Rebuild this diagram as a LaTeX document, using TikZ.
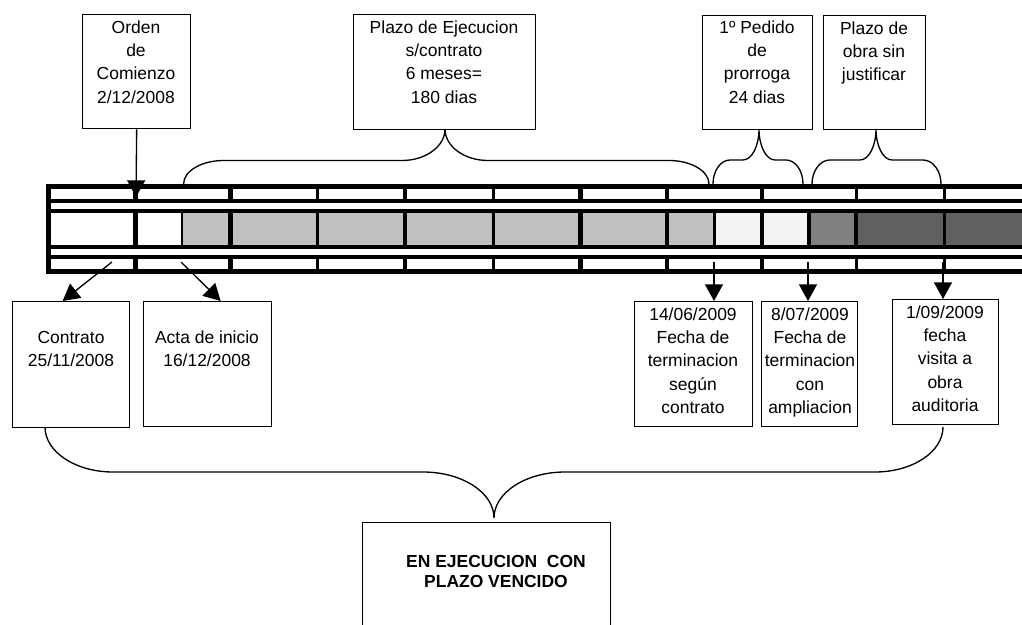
\documentclass[tikz,border=0pt]{standalone}
\usepackage{fontspec}
\setmainfont{Liberation Sans}
\usetikzlibrary{arrows.meta}
\definecolor{lg}{HTML}{C0C0C0}
\definecolor{dotc}{HTML}{F3F3F3}
\definecolor{mg}{HTML}{808080}
\definecolor{dg}{HTML}{606060}
\tikzset{
  box/.style={draw=black, line width=1pt, fill=white, inner sep=0pt, anchor=north west},
  txt/.style={inner sep=0pt, anchor=north, align=center, font=\fontsize{13.1pt}{17.5pt}\selectfont},
  arr/.style={line width=1pt, -{Triangle[width=13.5pt,length=12.5pt]}},
  brc/.style={line width=1pt},
}
\newcommand\fl{\rule{0pt}{12pt}}
% brace: #1 left x, #2 right x, #3 end y, #4 mid y, #5 tip x, #6 tip y, #7 end-curve dx, #8 tip-curve dx
\newcommand\mybrace[8]{%
  \draw[brc] (#1,#3) .. controls (#1,{#3+0.552*(#4-#3)}) and ({#1+#7*0.448},#4) .. ({#1+#7},#4)
    -- ({#5-#8},#4) .. controls ({#5-#8*0.448},#4) and (#5,{#6+0.552*(#4-#6)}) .. (#5,#6)
    .. controls (#5,{#6+0.552*(#4-#6)}) and ({#5+#8*0.448},#4) .. ({#5+#8},#4)
    -- ({#2-#7},#4) .. controls ({#2-#7*0.448},#4) and (#2,{#3+0.552*(#4-#3)}) .. (#2,#3);}
\begin{document}
\begin{tikzpicture}[x=0.75pt,y=-0.75pt]
\useasboundingbox (0,0) rectangle (1022,625);
\clip (0,0) rectangle (1022,625);
\fill[white] (0,0) rectangle (1022,625);

% ---- timeline bar ----
\fill[black] (46,184) rectangle (1030,274);
\foreach \a/\b in {51/133,138/228,233/316,319/403,407/492,495/578,583/665,669/760,764/855,858/943,946/1030}{
  \fill[white] (\a,189) rectangle (\b,199);
  \fill[white] (\a,259) rectangle (\b,269);
}
\fill[white] (51,203) rectangle (1030,209);
\fill[white] (51,249) rectangle (1030,255);
\foreach \a/\b/\c in {51/133/white,138/181/white,183/228/lg,233/316/lg,319/403/lg,407/492/lg,495/578/lg,583/665/lg,669/713/lg,716/760/dotc,764/807/dotc,811/854/mg,858/943/dg,946/1030/dg}{
  \fill[\c] (\a,213) rectangle (\b,245);
}

% ---- top boxes ----
\node[box, minimum width=81pt, minimum height=85.5pt] (orden) at (82,14) {};
\node[txt] (ordent) at (136,17) {\fl Orden\\de\\Comienzo\\2/12/2008};
\node[box, minimum width=136.5pt, minimum height=86.25pt] (plazo) at (353,14) {};
\node[txt] (plazot) at (444,17) {\fl Plazo de Ejecucion\\s/contrato\\6 meses=\\180 dias};
\node[box, minimum width=82.5pt, minimum height=85.5pt] (prorr) at (702,15) {};
\node[txt] (prorrt) at (757,17) {\fl 1º Pedido\\de\\prorroga\\24 dias};
\node[box, minimum width=76.5pt, minimum height=85.5pt] (sinj) at (823,15) {};
\node[txt] (sinjt) at (874,18) {\fl Plazo de\\obra sin\\justificar};

% ---- bottom boxes ----
\node[box, minimum width=87.75pt, minimum height=94.5pt] (contrato) at (12,301) {};
\node[txt] (contratot) at (71,327) {\fl Contrato\\25/11/2008};
\node[box, minimum width=96pt, minimum height=93.75pt] (acta) at (143,301) {};
\node[txt] (actat) at (207,327) {\fl Acta de inicio\\16/12/2008};
\node[box, minimum width=88.5pt, minimum height=93.75pt] (f1406) at (634,301) {};
\node[txt] (f1406t) at (693,304) {\fl 14/06/2009\\Fecha de\\terminacion\\según\\contrato};
\node[box, minimum width=72pt, minimum height=93.75pt] (f0807) at (761,301) {};
\node[txt] (f0807t) at (810,304) {\fl 8/07/2009\\Fecha de\\terminacion\\con\\ampliacion};
\node[box, minimum width=79.5pt, minimum height=93.75pt] (f0109) at (892,299) {};
\node[txt] (f0109t) at (945,302) {\fl 1/09/2009\\fecha\\visita a\\obra\\auditoria};

\node[box, minimum width=186pt, minimum height=133.5pt] (estado) at (362,522) {};
\node[txt, font=\fontsize{13.1pt}{15.2pt}\selectfont\bfseries] (estadot) at (496,551) {\fl EN EJECUCION~ CON\\PLAZO VENCIDO};

% ---- arrows ----
\coordinate (ordtip) at (136,197);
\draw[arr] (orden.south) -- (ordtip);
\coordinate (s1) at (112,262);
\draw[arr] (s1) -- ([xshift=-6.4pt]contrato.north);
\coordinate (s2) at (181,262);
\draw[arr] (s2) -- ([xshift=9.75pt]acta.north);
\coordinate (s3) at (714,262);
\draw[arr] (s3) -- (s3 |- f1406.north);
\coordinate (s4) at (808,262);
\draw[arr] (s4) -- (s4 |- f0807.north);
\coordinate (s5) at (943,262);
\draw[arr] (s5) -- (s5 |- f0109.north);

% ---- braces ----
\mybrace{183.6}{709}{184}{160.5}{445}{129}{40}{43}
\mybrace{713}{803}{184}{160}{759}{129}{17}{16}
\mybrace{812}{941}{184}{160}{876}{129}{18}{16}
\mybrace{45}{943}{427}{472}{494}{518}{68}{71}
\end{tikzpicture}
\end{document}
